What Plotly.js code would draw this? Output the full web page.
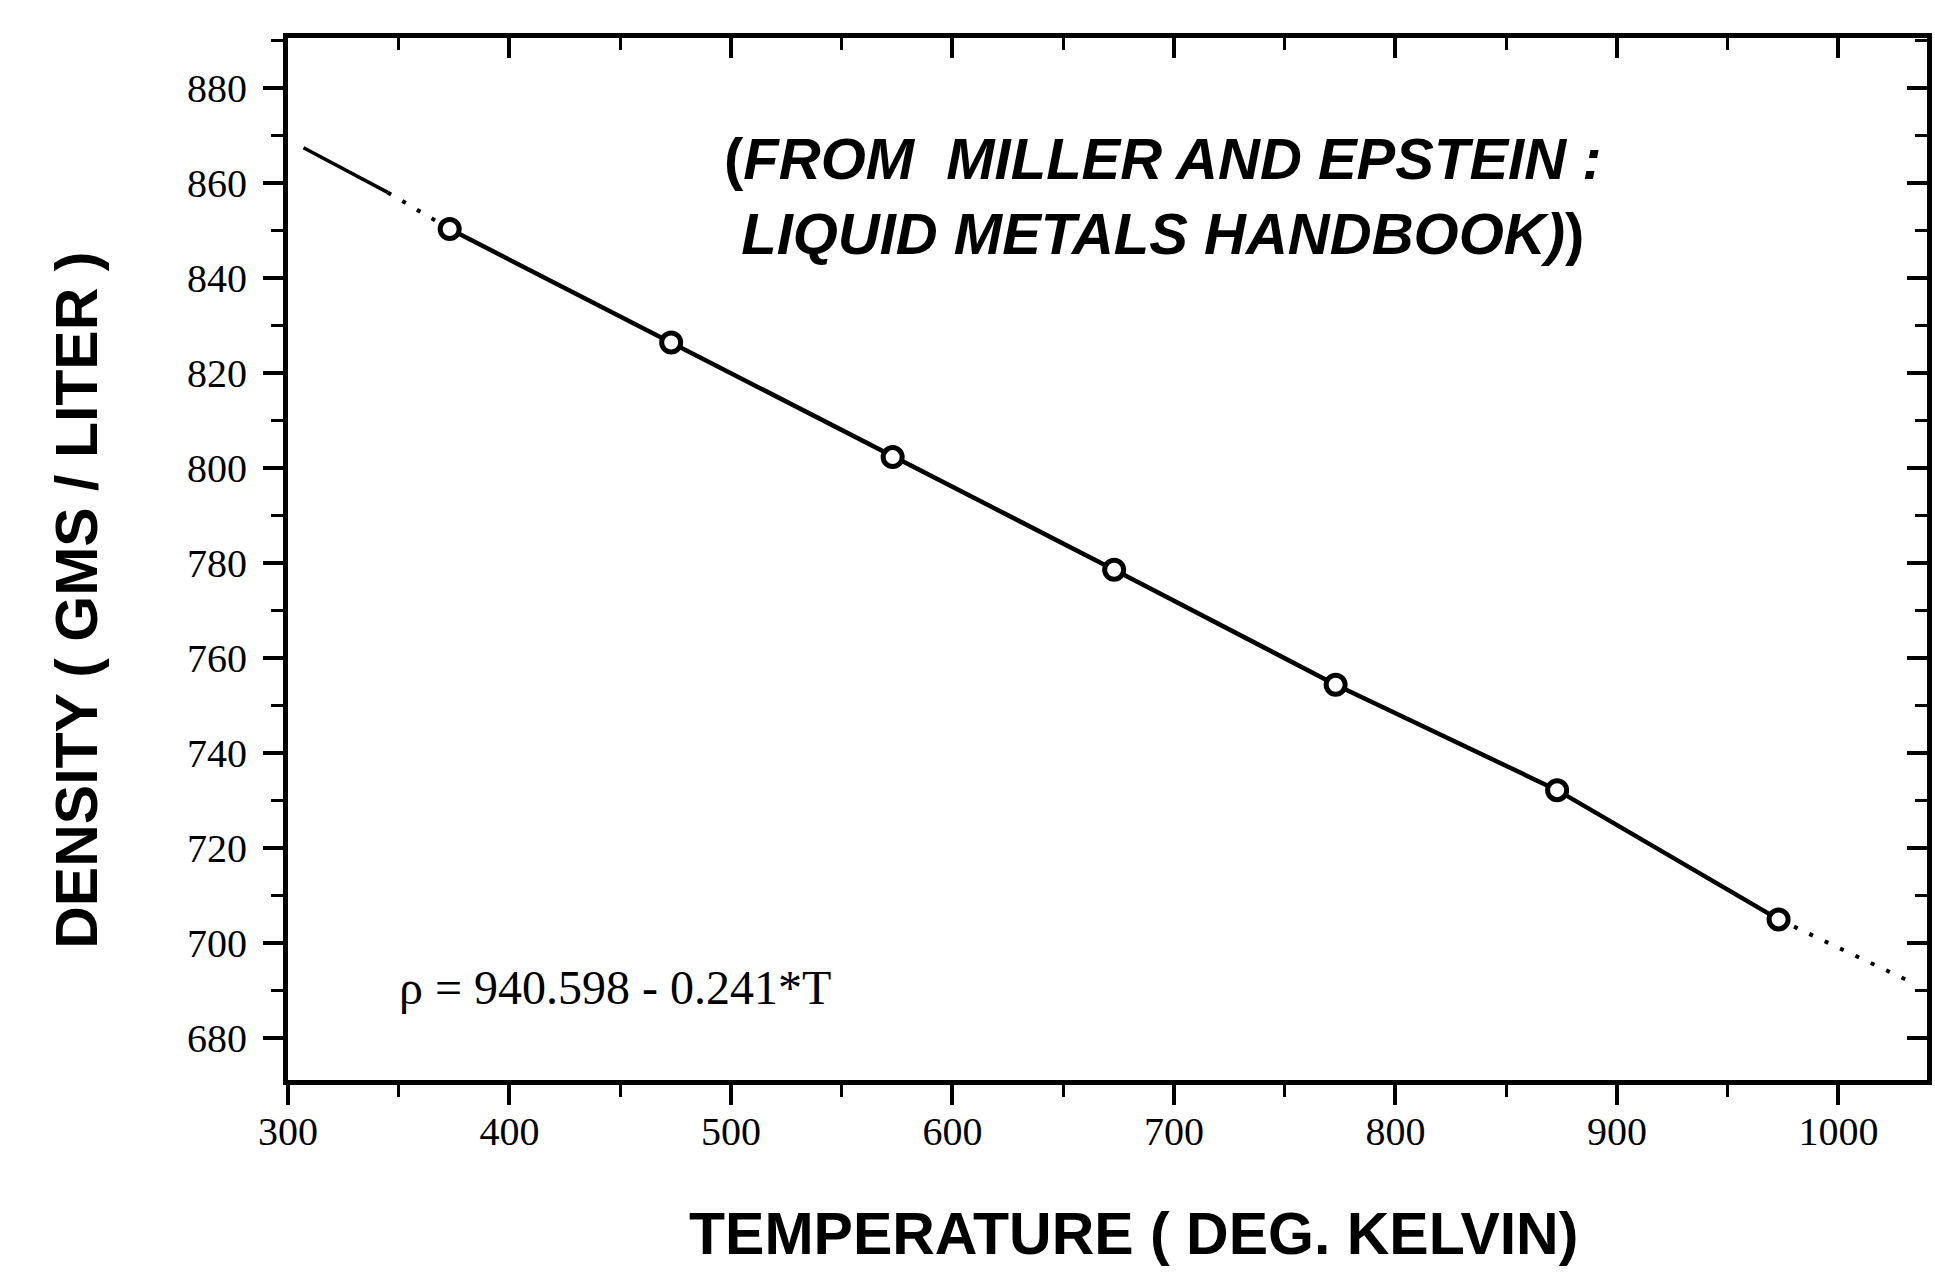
<!DOCTYPE html>
<html>
<head>
<meta charset="utf-8">
<script src="https://cdn.plot.ly/plotly-3.0.1.min.js"></script>
<style>
  html, body { margin: 0; padding: 0; background: #fff; }
  #chart { width: 1935px; height: 1274px; }
</style>
</head>
<body>
<div id="chart"></div>
<script>
// Measured points (temperature in K, density in g/L)
const tempK = [373, 473, 573, 673, 773, 873, 973];
const density = [850.3, 826.4, 802.3, 778.6, 754.4, 732.2, 705.0];

// Extrapolated fit-line pieces
const extLeftSolidT = [307, 345];
const extLeftSolidRho = [867.4, 858.0];
const extLeftDotT = [345, 373];
const extLeftDotRho = [858.0, 850.3];
const extRightDotT = [973, 1032];
const extRightDotRho = [705.0, 692.0];

// Tick values / labels
const xTickVals = [300, 400, 500, 600, 700, 800, 900, 1000];
const xTickText = ['300', '400', '500', '600', '700', '800', '900', '1000'];
const yTickVals = [680, 700, 720, 740, 760, 780, 800, 820, 840, 860, 880];
const yTickText = ['680', '700', '720', '740', '760', '780', '800', '820', '840', '860', '880'];

const xRange = [300, 1040];
const yRange = [671.2, 890.5];

const black = '#000000';
const tickFont = { family: 'Liberation Serif, Times New Roman, serif', size: 40, color: black };

const traces = [
  {
    x: extLeftSolidT, y: extLeftSolidRho, mode: 'lines',
    line: { color: black, width: 3.5 }, hoverinfo: 'skip', showlegend: false
  },
  {
    x: extLeftDotT, y: extLeftDotRho, mode: 'lines',
    line: { color: black, width: 4, dash: '4px,13px' }, hoverinfo: 'skip', showlegend: false
  },
  {
    x: extRightDotT, y: extRightDotRho, mode: 'lines',
    line: { color: black, width: 4, dash: '4px,13px' }, hoverinfo: 'skip', showlegend: false
  },
  {
    x: tempK, y: density, mode: 'lines+markers',
    line: { color: black, width: 4.5 },
    marker: { symbol: 'circle', size: 19, color: '#ffffff', line: { color: black, width: 5 } },
    showlegend: false
  },
  {
    // invisible companion on the mirrored (top/right) axes so they are drawn
    x: tempK, y: density, xaxis: 'x2', yaxis: 'y2', mode: 'markers',
    marker: { opacity: 0 }, hoverinfo: 'skip', showlegend: false
  }
];

const layout = {
  width: 1935, height: 1274,
  paper_bgcolor: '#ffffff', plot_bgcolor: '#ffffff',
  margin: { l: 288, r: 8, t: 38, b: 194 },
  showlegend: false,
  xaxis: {
    range: xRange, showgrid: false, zeroline: false,
    showline: true, linecolor: black, linewidth: 5,
    ticks: 'outside', ticklen: 20, tickwidth: 4, tickcolor: black,
    tickvals: xTickVals, ticktext: xTickText, tickfont: tickFont,
    ticklabelstandoff: -8,
    minor: { dtick: 50, tick0: 300, ticks: 'outside', ticklen: 12, tickwidth: 3, tickcolor: black, showgrid: false }
  },
  yaxis: {
    range: yRange, showgrid: false, zeroline: false,
    showline: true, linecolor: black, linewidth: 5,
    ticks: 'outside', ticklen: 20, tickwidth: 4, tickcolor: black,
    tickvals: yTickVals, ticktext: yTickText, tickfont: tickFont,
    ticklabelstandoff: 8,
    minor: { dtick: 10, tick0: 680, ticks: 'outside', ticklen: 12, tickwidth: 3, tickcolor: black, showgrid: false }
  },
  xaxis2: {
    overlaying: 'x', side: 'top', anchor: 'y', matches: 'x', range: xRange,
    showgrid: false, zeroline: false, showticklabels: false,
    showline: true, linecolor: black, linewidth: 5,
    ticks: 'inside', ticklen: 20, tickwidth: 4, tickcolor: black,
    tickvals: xTickVals,
    minor: { dtick: 50, tick0: 300, ticks: 'inside', ticklen: 12, tickwidth: 3, tickcolor: black, showgrid: false }
  },
  yaxis2: {
    overlaying: 'y', side: 'right', anchor: 'x', matches: 'y', range: yRange,
    showgrid: false, zeroline: false, showticklabels: false,
    showline: true, linecolor: black, linewidth: 5,
    ticks: 'inside', ticklen: 20, tickwidth: 4, tickcolor: black,
    tickvals: yTickVals,
    minor: { dtick: 10, tick0: 680, ticks: 'inside', ticklen: 12, tickwidth: 3, tickcolor: black, showgrid: false }
  },
  annotations: [
    {
      xref: 'paper', yref: 'paper', x: 0.534, y: 0.848, xanchor: 'center', yanchor: 'middle',
      text: '<b>(<i>FROM  MILLER AND EPSTEIN :</i></b><br><b><i>LIQUID METALS HANDBOOK)</i>)</b>',
      showarrow: false, align: 'center',
      font: { family: 'Liberation Sans, Arial, sans-serif', size: 58, color: black }
    },
    {
      xref: 'paper', yref: 'paper', x: 0.0665, y: 0.089, xanchor: 'left', yanchor: 'middle',
      text: 'ρ = 940.598 - 0.241*T',
      showarrow: false,
      font: { family: 'Liberation Serif, Times New Roman, serif', size: 48, color: black }
    },
    {
      xref: 'paper', yref: 'paper', x: 0.5156, y: -0.148, xanchor: 'center', yanchor: 'middle',
      text: '<b>TEMPERATURE ( DEG. KELVIN)</b>',
      showarrow: false,
      font: { family: 'Liberation Sans, Arial, sans-serif', size: 59, color: black }
    },
    {
      xref: 'paper', yref: 'paper', x: -0.1287, y: 0.46, xanchor: 'center', yanchor: 'middle',
      text: '<b>DENSITY ( GMS / LITER )</b>', textangle: -90,
      showarrow: false,
      font: { family: 'Liberation Sans, Arial, sans-serif', size: 59, color: black }
    }
  ]
};

Plotly.newPlot('chart', traces, layout, { displayModeBar: false, staticPlot: true });
</script>
</body>
</html>
